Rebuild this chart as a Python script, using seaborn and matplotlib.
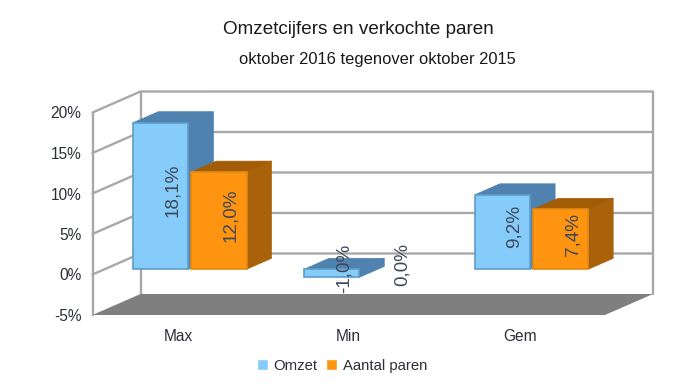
import matplotlib
matplotlib.use("Agg")
import matplotlib.pyplot as plt
import pandas as pd
import seaborn as sns

categories = ["Max", "Min", "Gem"]
omzet = [18.1, -1.0, 9.2]
paren = [12.0, 0.0, 7.4]
series_names = ["Omzet", "Aantal paren"]
y_ticks = [-5, 0, 5, 10, 15, 20]

FRONT = {"Omzet": "#86CCFB", "Aantal paren": "#FF9411"}
EDGE = {"Omzet": "#5D9CC8", "Aantal paren": "#E48A14"}
SIDE = {"Omzet": "#4F82AE", "Aantal paren": "#A9620A"}
TOP = {"Omzet": "#4F82AE", "Aantal paren": "#A25C06"}
GRID = "#A8A8A8"
TXT = "#2B2F36"
LBL = "#3E4957"

# depth projection: category units and percent units for a full wall depth
DX, DY = 48 / 170.8, 21 / 8.1
D_FRONT, D_BACK = 0.25, 0.77

sns.set_theme(style="white")
plt.rcParams["font.family"] = ["Liberation Sans", "DejaVu Sans"]

W, H = 687, 386
fig = plt.figure(figsize=(W / 100, H / 100), dpi=100, facecolor="white")
ax = fig.add_axes([92.5 / W, 1 - 315 / H, 512.5 / W, 202.5 / H])

df = pd.DataFrame({
    "cat": categories * 2,
    "val": omzet + paren,
    "serie": [series_names[0]] * 3 + [series_names[1]] * 3,
})
sns.barplot(data=df, x="cat", y="val", hue="serie", order=categories,
            hue_order=series_names, palette=FRONT, width=0.68, gap=0.05,
            errorbar=None, ax=ax, saturation=1)

ax.set_xlim(-0.5, 2.5)
ax.set_ylim(-5, 20)
ax.set_xlabel("")
ax.set_ylabel("")
for s in ax.spines.values():
    s.set_visible(False)
ax.patch.set_visible(False)

# walls and gridlines
x0, x1 = -0.5, 2.5
line = dict(color=GRID, lw=1.7, clip_on=False, zorder=1, solid_capstyle="round")
for t in y_ticks[1:]:
    ax.plot([x0, x0 + DX, x1 + DX], [t, t + DY, t + DY], **line)
ax.plot([x0, x0], [-5, 20], **line)
ax.plot([x0 + DX, x0 + DX], [-5 + DY, 20 + DY], **line)
ax.plot([x1 + DX, x1 + DX], [-5 + DY, 20 + DY], **line)
ax.fill([x0, x1, x1 + DX, x0 + DX], [-5, -5, -5 + DY, -5 + DY],
        color="#7F7F7F", lw=0, clip_on=False, zorder=1.5)

# bars: shift the front faces into depth, then add side and top faces
dd = D_BACK - D_FRONT
for i, (cont, name) in enumerate(zip(ax.containers, series_names)):
    z = 3 + 2 * i
    for p, v in zip(cont.patches, cont.datavalues):
        if v == 0:
            p.set_visible(False)
            xc = p.get_x() + p.get_width() / 2 + (D_FRONT + 0.25) * DX
        else:
            p.set_x(p.get_x() + D_FRONT * DX)
            p.set_y(D_FRONT * DY)
            p.set_edgecolor(EDGE[name])
            p.set_linewidth(1.2)
            p.set_zorder(z + 1)
            p.set_clip_on(False)
            l, r = p.get_x(), p.get_x() + p.get_width()
            base = D_FRONT * DY
            up = base + max(v, 0)
            low = base + min(v, 0)
            ax.fill([r, r + dd * DX, r + dd * DX, r],
                    [low, low + dd * DY, up + dd * DY, up],
                    color=SIDE[name], lw=0.5, clip_on=False, zorder=z)
            ax.fill([l, r, r + dd * DX, l + dd * DX],
                    [up, up, up + dd * DY, up + dd * DY],
                    color=TOP[name], lw=0.5, clip_on=False, zorder=z)
            xc = (l + r) / 2 + 0.25 * DX
        yc = D_FRONT * DY + 0.25 * DY + v / 2
        ax.text(xc, yc, f"{v:.1f}%".replace(".", ","), rotation=90,
                ha="center", va="center", fontsize=13.6, color=LBL, zorder=10,
                clip_on=False)

ax.set_yticks(y_ticks)
ax.set_yticklabels([f"{t}%" for t in y_ticks])
ax.set_xticks(range(3))
ax.set_xticklabels(categories)
ax.tick_params(axis="y", length=0, pad=8, labelsize=11.2, labelcolor=TXT)
ax.tick_params(axis="x", length=0, pad=10, labelsize=11.2, labelcolor=TXT)

handles, labels = ax.get_legend_handles_labels()
ax.legend(handles, labels, ncols=2, frameon=False, loc="center",
          bbox_to_anchor=((342 - 92.5) / 512.5, -51 / 202.5), fontsize=10.7,
          handlelength=0.75, handleheight=0.75, handletextpad=0.35,
          columnspacing=0.6, labelcolor=TXT)

fig.text(358 / W, 1 - 29 / H, "Omzetcijfers en verkochte paren",
         ha="center", va="center", fontsize=13.6, color="#1A1A1A")
fig.text(377 / W, 1 - 59.5 / H, "oktober 2016 tegenover oktober 2015",
         ha="center", va="center", fontsize=11.9, color="#1A1A1A")

fig.savefig("out.png", dpi=100, facecolor="white")
